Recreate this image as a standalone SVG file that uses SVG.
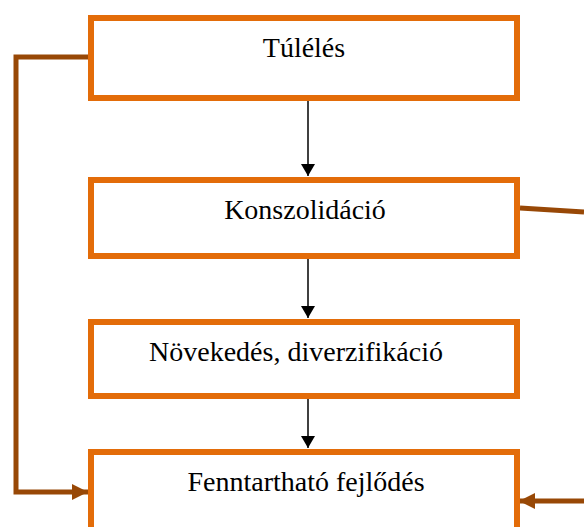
<svg xmlns="http://www.w3.org/2000/svg" width="584" height="527" viewBox="0 0 584 527">
<style>
.box{fill:#fff;stroke:#E36C09;stroke-width:6}
.t{font-family:"Liberation Serif","Times New Roman",serif;font-size:28px;fill:#000;text-anchor:middle}
.k{stroke:#000;stroke-width:1.5;fill:none}
.b{stroke:#984806;stroke-width:5;fill:none}
</style>
<defs>
<marker id="ah" markerWidth="12" markerHeight="14" refX="12" refY="7" orient="auto" markerUnits="userSpaceOnUse"><path d="M0,0 L12,7 L0,14 z" fill="#000"/></marker>
<marker id="bh" markerWidth="16" markerHeight="16" refX="16" refY="8" orient="auto" markerUnits="userSpaceOnUse"><path d="M0,0 L16,8 L0,16 z" fill="#984806"/></marker>
</defs>
<g id="connectors">
<line class="k" x1="308" y1="100" x2="308" y2="176" marker-end="url(#ah)"/>
<line class="k" x1="308" y1="258" x2="308" y2="318" marker-end="url(#ah)"/>
<line class="k" x1="308" y1="398" x2="308" y2="448" marker-end="url(#ah)"/>
<polyline class="b" points="91,57 16,57 16,492 88,492" marker-end="url(#bh)"/>
<polyline class="b" points="520,208 584,212"/>
<line class="b" x1="584" y1="501" x2="519" y2="501" marker-end="url(#bh)"/>
</g>
<g id="n1"><rect class="box" x="91" y="18" width="426" height="80"/><text class="t" x="304" y="57">Túlélés</text></g>
<g id="n2"><rect class="box" x="91" y="180" width="426" height="76"/><text class="t" x="305" y="219">Konszolidáció</text></g>
<g id="n3"><rect class="box" x="91" y="322" width="426" height="74"/><text class="t" x="296" y="361">Növekedés, diverzifikáció</text></g>
<g id="n4"><rect class="box" x="91" y="452" width="426" height="90"/><text class="t" x="306" y="491">Fenntartható fejlődés</text></g>
</svg>
